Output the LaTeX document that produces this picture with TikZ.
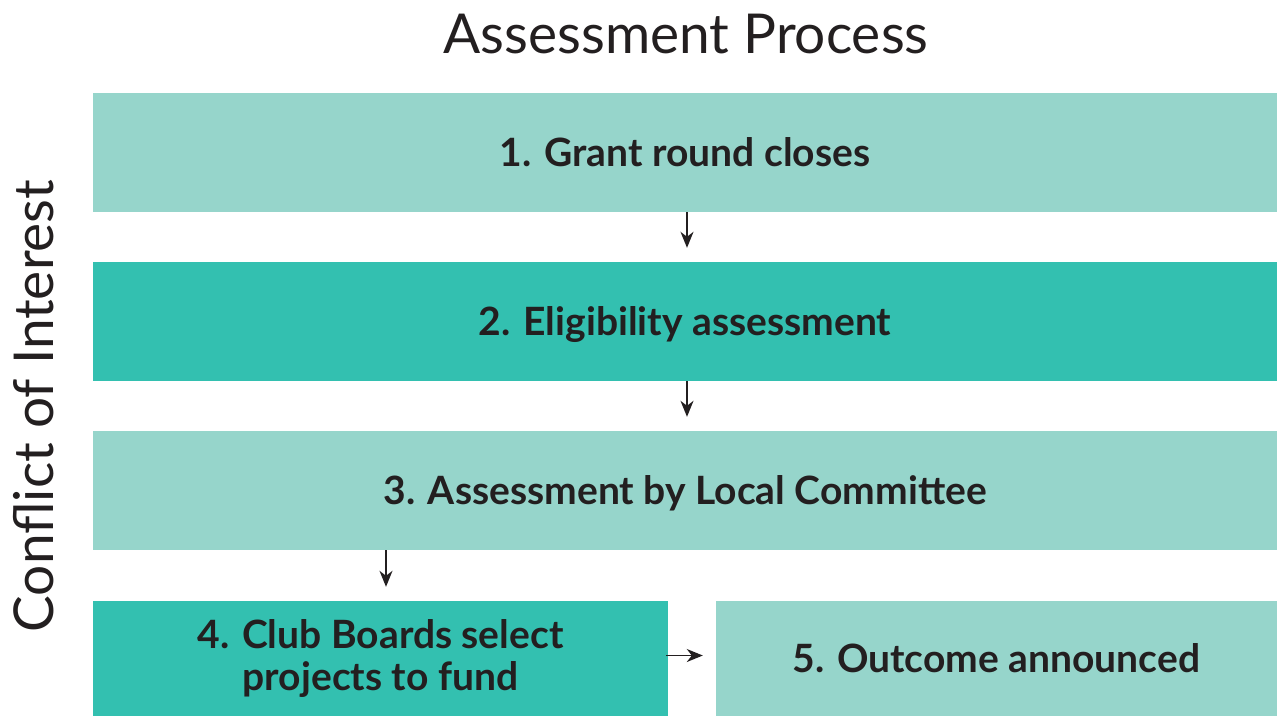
\documentclass[tikz,border=0pt]{standalone}
\usepackage{fontspec}
\setmainfont{Lato}
\usetikzlibrary{arrows.meta}
\definecolor{lightteal}{HTML}{96D5CB}
\definecolor{darkteal}{HTML}{33C0B0}
\definecolor{ink}{HTML}{231F20}
\begin{document}
\begin{tikzpicture}[x=1pt,y=-1pt,
  box/.style={rectangle,inner sep=0pt,align=center,text=ink,
    font=\fontsize{39}{42}\selectfont\bfseries},
  onebox/.style={box,text height=27pt,text depth=0pt},
  arr/.style={draw=ink,line width=1.6pt,-{Stealth[length=16pt,width=13pt,inset=5pt]}},
  heading/.style={text=ink,inner sep=0pt,font=\fontsize{55}{60}\selectfont}]
\useasboundingbox (0,0) rectangle (1277,716);
\node[onebox,fill=lightteal,minimum width=1184pt,minimum height=119pt] (b1) at (685,152.5) {1. Grant round closes};
\node[onebox,fill=darkteal,minimum width=1184pt,minimum height=119pt] (b2) at (685,321.5) {2. Eligibility assessment};
\node[onebox,fill=lightteal,minimum width=1184pt,minimum height=119pt] (b3) at (685,490.5) {3. Assessment by Local Committee};
\node[box,fill=darkteal,minimum width=575pt,minimum height=115pt] (b4) at (380.5,658.5) {4. Club Boards select\\projects to fund};
\node[onebox,fill=lightteal,minimum width=561pt,minimum height=115pt] (b5) at (996.5,658.5) {5. Outcome announced};
\node[heading,anchor=base] (title) at (686,53) {Assessment Process};
\node[heading,anchor=base,rotate=90] (coi) at (53,406) {Conflict of Interest};
\draw[arr,shorten >=14pt] ([xshift=2pt]b1.south) -- ([xshift=2pt]b2.north);
\draw[arr,shorten >=14pt] ([xshift=2pt]b2.south) -- ([xshift=2pt]b3.north);
\draw[arr,shorten >=14pt] (b3.south -| 386,0) -- ([xshift=5.5pt]b4.north);
\draw[arr,shorten <=-2pt,shorten >=13pt] ([yshift=3pt]b4.east) -- ([yshift=3pt]b5.west);
\end{tikzpicture}
\end{document}
